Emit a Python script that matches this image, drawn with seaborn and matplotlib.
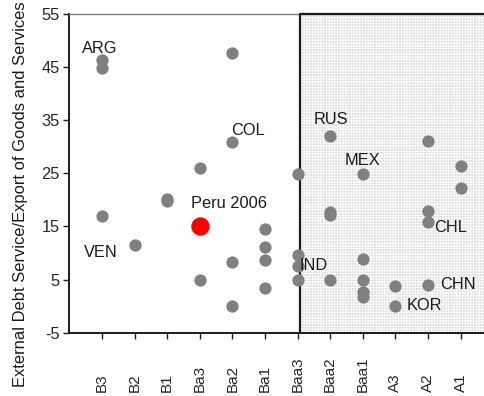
import matplotlib
matplotlib.use("Agg")
import matplotlib.pyplot as plt
import seaborn as sns
import pandas as pd
from matplotlib.patches import Rectangle

ratings = ['B3', 'B2', 'B1', 'Ba3', 'Ba2', 'Ba1', 'Baa3', 'Baa2', 'Baa1', 'A3', 'A2', 'A1']

point_rating = ['B3', 'B3', 'B3',
                'B2',
                'B1', 'B1',
                'Ba3', 'Ba3',
                'Ba2', 'Ba2', 'Ba2', 'Ba2',
                'Ba1', 'Ba1', 'Ba1', 'Ba1',
                'Baa3', 'Baa3', 'Baa3', 'Baa3',
                'Baa2', 'Baa2', 'Baa2', 'Baa2',
                'Baa1', 'Baa1', 'Baa1', 'Baa1', 'Baa1',
                'A3', 'A3',
                'A2', 'A2', 'A2', 'A2',
                'A1', 'A1']
point_value = [46.3, 44.8, 17.0,
               11.5,
               20.2, 19.8,
               26.1, 5.0,
               47.7, 30.9, 8.4, 0.0,
               14.6, 11.2, 8.7, 3.5,
               24.9, 9.6, 7.5, 5.0,
               32.1, 17.8, 17.1, 4.9,
               24.9, 8.9, 5.0, 2.6, 1.8,
               3.8, 0.1,
               31.0, 18.0, 15.8, 4.0,
               26.4, 22.3]

peru_rating = ['Ba3']
peru_value = [15.0]

label_text = ['ARG', 'COL', 'RUS', 'MEX', 'VEN', 'CHL', 'IND', 'CHN', 'KOR']
label_x = [0.92, 5.48, 8.02, 9.0, 0.97, 11.7, 7.5, 11.93, 10.9]
label_y = [48.6, 33.1, 35.2, 27.5, 10.1, 14.9, 7.6, 4.1, 0.2]

y_ticks = [-5, 5, 15, 25, 35, 45, 55]

sns.set_theme(style="white")
plt.rcParams['font.family'] = ['Liberation Sans', 'DejaVu Sans']
plt.rcParams['hatch.color'] = '#9a9a9a'
plt.rcParams['hatch.linewidth'] = 0.6

pos = {r: i + 1 for i, r in enumerate(ratings)}
df = pd.DataFrame({'x': [pos[r] for r in point_rating], 'y': point_value})
dfp = pd.DataFrame({'x': [pos[r] for r in peru_rating], 'y': peru_value})

fig = plt.figure(figsize=(4.84, 3.96), dpi=100)
ax = fig.add_axes([0.1432, 0.1598, 1.0 - 0.1432, 0.9646 - 0.1598])

xmax = 12.72
box_x0 = 7.07
rect = Rectangle((box_x0, -5), 10, 60, facecolor='#dedede', hatch='++++++',
                 edgecolor=None, linewidth=0, zorder=0)
ax.add_patch(rect)
ax.plot([box_x0, box_x0, xmax + 0.5], [-5, 55, 55], color='#1a1a1a', lw=1.6,
        clip_on=False, zorder=3, solid_capstyle='butt')

sns.scatterplot(data=df, x='x', y='y', ax=ax, color='#808080', s=78,
                linewidth=0, zorder=4)
sns.scatterplot(data=dfp, x='x', y='y', ax=ax, color='#ff0000', s=175,
                linewidth=0, zorder=5)

for t, x, y in zip(label_text, label_x, label_y):
    ax.text(x, y, t, ha='center', va='center', fontsize=11.8, color='#1a1a1a', zorder=6)
ax.text(3.73, 19.35, 'Peru 2006', ha='left', va='center', fontsize=11.8,
        color='#1a1a1a', zorder=6)

ax.set_xlim(0, xmax)
ax.set_ylim(-5, 55)
ax.set_xticks(list(range(1, len(ratings) + 1)))
ax.set_xticklabels(ratings, rotation=90, fontsize=11, va='bottom', ha='center')
ax.set_yticks(y_ticks)
ax.set_yticklabels([str(v) for v in y_ticks], fontsize=11.8)
ax.set_xlabel('')
ax.set_ylabel('')

ax.tick_params(axis='x', direction='out', length=4.5, width=1, color='#1a1a1a',
               pad=38.5, bottom=True)
ax.tick_params(axis='y', direction='out', length=4, width=1, color='#1a1a1a',
               pad=3, left=True)

for s in ['left', 'bottom']:
    ax.spines[s].set_color('#1a1a1a')
    ax.spines[s].set_linewidth(1.4)
ax.spines['top'].set_color('#808080')
ax.spines['top'].set_linewidth(1.0)
ax.spines['right'].set_visible(False)

fig.text(21 / 484, 1 - 194.5 / 396, 'External Debt Service/Export of Goods and Services',
         rotation=90, ha='center', va='center', fontsize=11.9, color='#1a1a1a')

fig.savefig('out.png', dpi=100)
